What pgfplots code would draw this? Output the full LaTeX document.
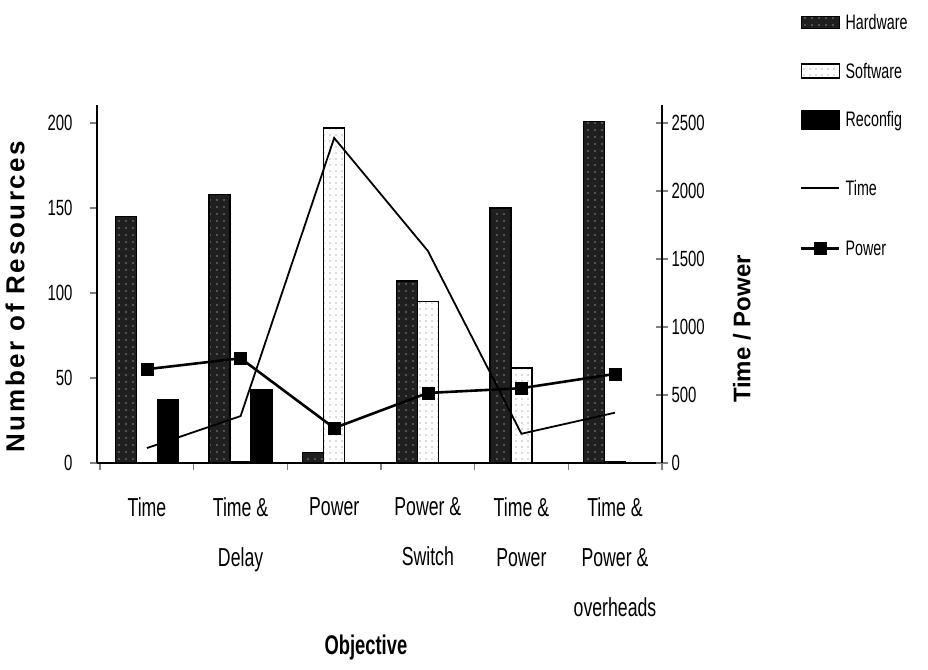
\documentclass[border=0pt]{standalone}
\usepackage{fontspec}
\setmainfont{Liberation Sans}
\newfontfamily\narrow{Liberation Sans}[FakeStretch=0.68]
\usepackage{pgfplots}
\pgfplotsset{compat=1.18}
\usetikzlibrary{patterns,patterns.meta}

\newcommand\tickfont{\narrow\fontsize{22}{22}\selectfont}
\newcommand\catfont{\narrow\fontsize{26}{50}\selectfont}
\newcommand\legfont{\narrow\fontsize{21}{21}\selectfont}

\tikzset{
 hwstyle/.style={draw=black, line width=1.3pt, fill=black!88, postaction={pattern={Dots[distance=7pt,radius=0.6pt]}, pattern color=white}},
 swstyle/.style={draw=black, line width=1.5pt, fill=white, postaction={pattern={Dots[distance=6pt,radius=0.7pt]}, pattern color=black!60}},
 rcstyle/.style={draw=black, line width=1.3pt, fill=black},
 timeline/.style={black, line width=1.8pt},
 powerline/.style={black, line width=2.6pt, mark=square*, mark size=6pt, mark options={line width=0.5pt}},
}

\begin{document}
\begin{tikzpicture}
\useasboundingbox (-97pt,-206pt) rectangle (831pt,463pt);
\begin{axis}[
 at={(0pt,0pt)}, anchor=south west,
 scale only axis, width=565pt, height=358pt,
 xmin=-0.534, xmax=5.502, ymin=0, ymax=210.6,
 axis x line*=bottom, axis y line*=left,
 axis line style={line width=1.8pt, -},
 xtick={0,...,5},
 xticklabels={Time, Time \&\\Delay, Power, Power \&\\Switch, Time \&\\Power, Time \&\\Power \&\\overheads},
 major x tick style={draw=none},
 minor xtick={-0.5,0.5,1.5,2.5,3.5,4.5,5.5},
 minor x tick style={line width=1.4pt},
 minor tick length=7pt,
 ytick={0,50,...,200},
 major y tick style={line width=1.4pt},
 major tick length=7pt,
 tick align=outside,
 xticklabel style={font=\catfont, align=center, anchor=north, yshift=-24pt},
 yticklabel style={font=\tickfont, xshift=-14pt},
 /pgf/number format/assume math mode=true,
 xlabel={Objective},
 every axis x label/.style={at={(axis description cs:0.476,-0.514)}, anchor=center, font=\narrow\bfseries\fontsize{27}{27}\selectfont},
 ylabel={Number of Resources},
 every axis y label/.style={at={(axis description cs:-0.145,0.465)}, anchor=center, rotate=90, font=\bfseries\fontsize{26}{26}\selectfont\addfontfeatures{LetterSpace=10}},
 clip=false,
]
\addplot[ybar, bar width=21pt, bar shift=-21pt, hwstyle] coordinates {(0,145) (1,158) (2,6) (3,107) (4,150) (5,201)};
\addplot[ybar, bar width=21pt, bar shift=0pt, swstyle] coordinates {(0,0) (1,1) (2,197) (3,95) (4,56) (5,1)};
\addplot[ybar, bar width=21pt, bar shift=21pt, rcstyle] coordinates {(0,37) (1,43) (2,0) (3,0) (4,0) (5,0)};
\end{axis}
\begin{axis}[
 at={(0pt,0pt)}, anchor=south west,
 scale only axis, width=565pt, height=358pt,
 xmin=-0.534, xmax=5.502, ymin=0, ymax=2632.5,
 axis x line=none, axis y line*=right,
 axis line style={line width=1.8pt, -},
 ytick={0,500,...,2500},
 tick align=center, major tick length=12pt,
 major y tick style={line width=1.4pt},
 yticklabel style={font=\tickfont},
 /pgf/number format/assume math mode=true,
 /pgf/number format/1000 sep={},
 ylabel={Time / Power},
 every axis y label/.style={at={(axis description cs:1.1416,0.374)}, anchor=center, rotate=90, font=\bfseries\fontsize{24}{24}\selectfont},
 legend style={at={(axis description cs:1.244,1.26)}, anchor=north west, draw=none, fill=none, inner sep=0pt, font=\legfont, row sep=28pt},
 legend cell align=left,
 clip=false,
]
\addlegendimage{legend image code/.code={\draw[hwstyle] (0pt,-6pt) rectangle (38pt,6pt);}}
\addlegendentry{\hspace{3pt}Hardware}
\addlegendimage{legend image code/.code={\draw[swstyle] (0pt,-7pt) rectangle (38pt,7pt);}}
\addlegendentry{\hspace{3pt}Software}
\addlegendimage{legend image code/.code={\draw[rcstyle] (0pt,-9pt) rectangle (38pt,9pt);}}
\addlegendentry{\hspace{3pt}Reconfig}
\addplot[timeline, legend image code/.code={\path[draw=none, fill=none] (0pt,0pt) rectangle (1pt,30pt); \draw[timeline] (0pt,0pt) -- (38pt,0pt);}] coordinates {(0,110) (1,345) (2,2390) (3,1560) (4,215) (5,370)};
\addlegendentry{\hspace{3pt}Time}
\addplot[powerline, legend image code/.code={\path[draw=none, fill=none] (0pt,0pt) rectangle (1pt,22pt); \draw[powerline, mark repeat=2, mark phase=2] plot coordinates {(0pt,0pt) (19pt,0pt) (38pt,0pt)};}] coordinates {(0,690) (1,770) (2,257) (3,515) (4,550) (5,655)};
\addlegendentry{\hspace{3pt}Power}
\end{axis}
\end{tikzpicture}
\end{document}
